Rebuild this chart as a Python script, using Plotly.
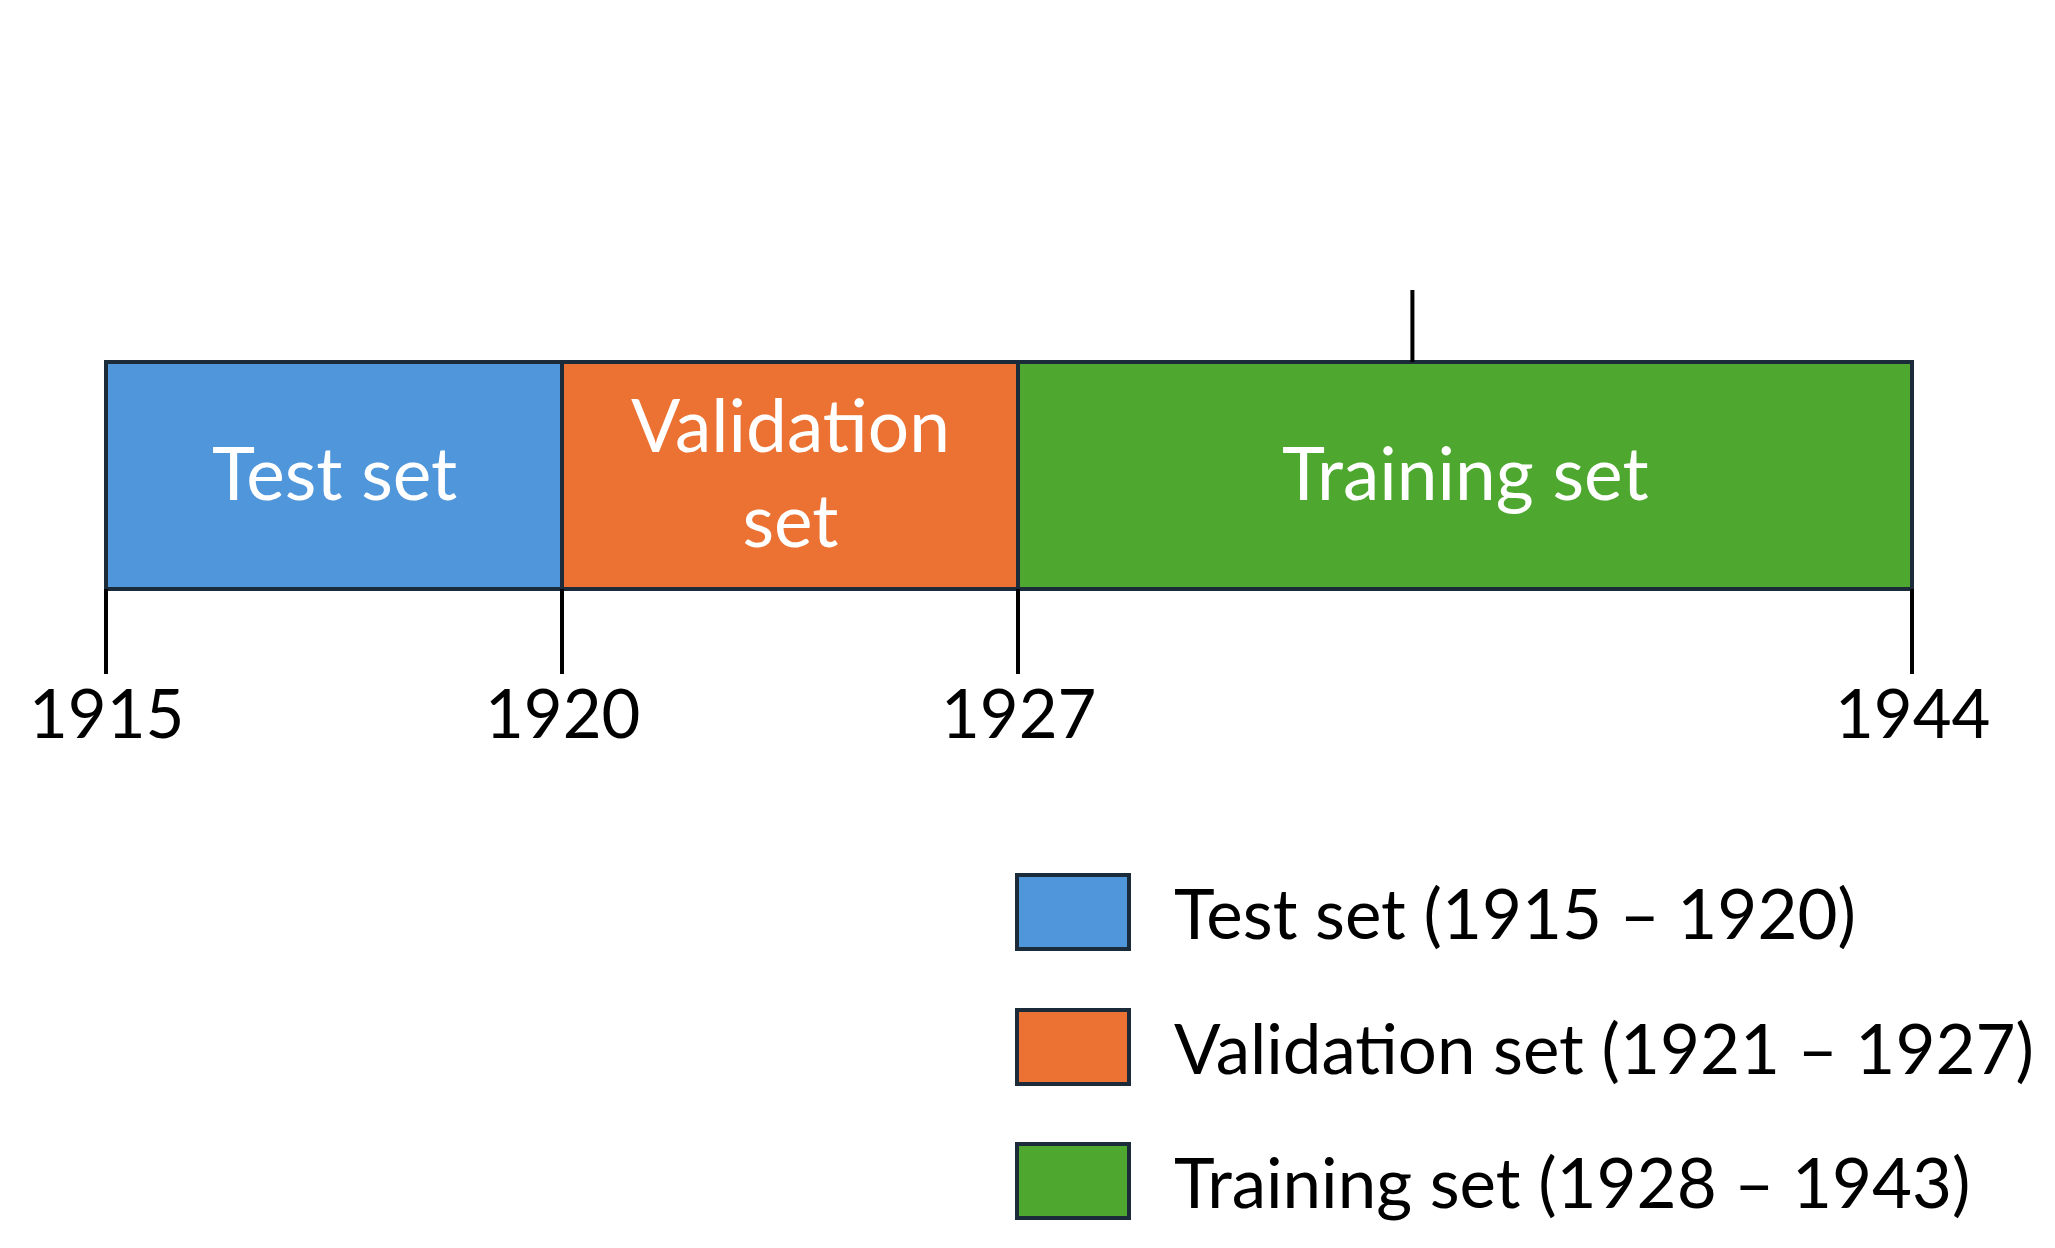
import plotly.graph_objects as go

segments = ["Test set", "Validation<br>set", "Training set"]
starts = [1915, 1920, 1927]
ends = [1920, 1927, 1944]
colors = ["#4F96DA", "#EB7233", "#4EA72E"]
tick_years = [1915, 1920, 1927, 1944]
legend_labels = ["Test set (1915 – 1920)", "Validation set (1921 – 1927)", "Training set (1928 – 1943)"]
event_year = 1934.5
event_text = "Galleries<br>construction &<br>drought periods"

W, H = 2055, 1248
# schematic (non-proportional) timeline: boundary years placed at fixed screen anchors
anchors = [98, 554, 1010, 1904]


def xpos(year):
    for i in range(len(tick_years) - 1):
        a, b = tick_years[i], tick_years[i + 1]
        if a <= year <= b:
            return anchors[i] + (year - a) / (b - a) * (anchors[i + 1] - anchors[i])
    return anchors[-1]


edge = "#1C2B3A"
font = "Lato"
dy = -9

fig = go.Figure()
shapes, ann = [], []
bar_top, bar_bot = 363 + dy, 590 + dy
for s, e, c, lab in zip(starts, ends, colors, segments):
    shapes.append(dict(type="rect", x0=xpos(s), x1=xpos(e), y0=bar_top, y1=bar_bot, xref="x", yref="y",
                       fillcolor=c, line=dict(color=edge, width=4), layer="below"))
    ann.append(dict(x=(xpos(s) + xpos(e)) / 2, y=(bar_top + bar_bot) / 2 - 4, text=lab, showarrow=False,
                    font=dict(family=font, size=73, color="white"), xref="x", yref="y"))
for t in tick_years:
    shapes.append(dict(type="line", x0=xpos(t), x1=xpos(t), y0=bar_bot, y1=675 + dy, xref="x", yref="y",
                       line=dict(color="black", width=4)))
    ann.append(dict(x=xpos(t), y=722 + 2 * dy, text=str(t), showarrow=False,
                    font=dict(family=font, size=67, color="black"), xref="x", yref="y"))
shapes.append(dict(type="line", x0=xpos(event_year), x1=xpos(event_year), y0=291 + dy, y1=bar_top,
                   xref="x", yref="y", line=dict(color="black", width=4)))
ann.append(dict(x=1138, y=-2, text=event_text, showarrow=False, xanchor="left", yanchor="top",
                align="left", font=dict(family=font, size=72, color="black"), xref="x", yref="y"))
leg_y = [915, 1050, 1184]
for yy, c, lab in zip(leg_y, colors, legend_labels):
    yy = yy - 11
    shapes.append(dict(type="rect", x0=1009, x1=1121, y0=yy - 37, y1=yy + 37, xref="x", yref="y",
                       fillcolor=c, line=dict(color=edge, width=4)))
    ann.append(dict(x=1164, y=yy, text=lab, showarrow=False, xanchor="left",
                    font=dict(family=font, size=69, color="black"), xref="x", yref="y"))

fig.add_trace(go.Scatter(x=[xpos(y) for y in tick_years], y=[bar_bot] * 4, mode="markers",
                         marker=dict(opacity=0), hoverinfo="skip", showlegend=False))
fig.update_layout(width=W, height=H, margin=dict(l=0, r=0, t=0, b=0), plot_bgcolor="white",
                  paper_bgcolor="white", shapes=shapes, annotations=ann, showlegend=False,
                  xaxis=dict(range=[0, W], visible=False),
                  yaxis=dict(range=[H, 0], visible=False))
fig.write_html("out.html")
